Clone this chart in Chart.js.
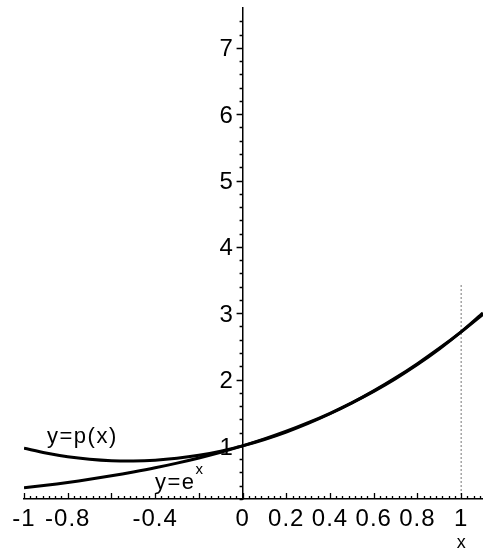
<!DOCTYPE html>
<html><head><meta charset="utf-8">
<script src="https://cdn.jsdelivr.net/npm/chart.js@4/dist/chart.umd.min.js"></script>
<style>html,body{margin:0;padding:0;background:#fff;overflow:hidden}#wrap{width:483px;height:551px}</style>
</head><body><div id="wrap"><canvas id="c" width="483" height="551"></canvas></div>
<script>
// ---- data ----
const xValues   = [-1, -0.9, -0.8, -0.7, -0.6, -0.5, -0.4, -0.3, -0.2, -0.1, 0, 0.1, 0.2, 0.3, 0.4, 0.5, 0.6, 0.7, 0.8, 0.9, 1.0, 1.1];
const expValues = [0.368, 0.407, 0.449, 0.497, 0.549, 0.607, 0.670, 0.741, 0.819, 0.905, 1.0, 1.105, 1.221, 1.350, 1.492, 1.649, 1.822, 2.014, 2.226, 2.460, 2.718, 3.004];
const pValues   = [0.965, 0.893, 0.837, 0.799, 0.777, 0.772, 0.784, 0.813, 0.858, 0.921, 1.0, 1.096, 1.209, 1.339, 1.485, 1.648, 1.829, 2.026, 2.240, 2.471, 2.718, 2.983];
const guideX    = [1, 1];
const guideY    = [0.2, 3.45];
const xMajorTicks = [-1, -0.8, -0.6, -0.4, -0.2, 0, 0.2, 0.4, 0.6, 0.8, 1];
const xTickLabels = ['-1', '-0.8', '', '-0.4', '', '0', '0.2', '0.4', '0.6', '0.8', '1'];
const yMajorTicks = [1, 2, 3, 4, 5, 6, 7];
const yTickLabels = ['1', '2', '3', '4', '5', '6', '7'];
const curveLabelP = 'y=p(x)';
const curveLabelE = 'y=e';
const curveLabelESup = 'x';
const xAxisTitle = 'x';

const tickFamily = '"Liberation Sans", Arial, sans-serif';
const textFamily = '"Liberation Sans", Arial, sans-serif';

const pts = (xs, ys) => xs.map((x, i) => ({x: x, y: ys[i]}));

const decor = {
  id: 'decor',
  beforeDraw(chart){ chart.ctx.letterSpacing = '1px'; },
  afterDraw(chart){
    const ctx = chart.ctx, xs = chart.scales.x, ys = chart.scales.y, ca = chart.chartArea;
    ctx.save();
    ctx.strokeStyle = '#000'; ctx.lineWidth = 1.3;
    // x-axis tick marks (pointing up)
    const yAxisPix = ca.bottom;
    ctx.beginPath();
    for (let i = 0; i <= 73; i++) {
      const v = -1 + i / 35;
      if (v > 1.1) break;
      const px = Math.round(xs.getPixelForValue(v)) + 0.5;
      const len = (i % 7 === 0) ? 6 : 3;
      ctx.moveTo(px, yAxisPix); ctx.lineTo(px, yAxisPix - len);
    }
    // y-axis tick marks (pointing left)
    const x0 = xs.getPixelForValue(0);
    for (let i = 1; i <= 37; i++) {
      const v = i / 5;
      if (v > 7.6) break;
      const py = Math.round(ys.getPixelForValue(v)) + 0.5;
      const len = (i % 5 === 0) ? 6 : 3;
      ctx.moveTo(x0, py); ctx.lineTo(x0 - len, py);
    }
    ctx.stroke();
    // curve labels
    ctx.letterSpacing = '1.5px';
    ctx.fillStyle = '#000';
    ctx.textBaseline = 'alphabetic'; ctx.textAlign = 'left';
    ctx.font = '22px ' + textFamily;
    ctx.fillText(curveLabelP, 47, 443);
    ctx.fillText(curveLabelE, 155, 489);
    const w = ctx.measureText(curveLabelE).width;
    ctx.font = '15px ' + textFamily;
    ctx.fillText(curveLabelESup, 155 + w, 474);
    // axis title
    ctx.letterSpacing = '0px';
    ctx.textAlign = 'center';
    ctx.font = '18px ' + tickFamily;
    ctx.fillText(xAxisTitle, xs.getPixelForValue(1), 548);
    ctx.restore();
  }
};

new Chart(document.getElementById('c').getContext('2d'), {
  type: 'scatter',
  data: { datasets: [
    { label: 'p', data: pts(xValues, pValues), showLine: true, borderColor: '#000', borderWidth: 3, pointRadius: 0, tension: 0.3, fill: false },
    { label: 'exp', data: pts(xValues, expValues), showLine: true, borderColor: '#000', borderWidth: 3, pointRadius: 0, tension: 0.3, fill: false },
    { label: 'guide', data: pts(guideX, guideY), showLine: true, borderColor: '#777', borderWidth: 1, borderDash: [2, 2], pointRadius: 0, fill: false }
  ]},
  options: {
    responsive: false, animation: false, events: [],
    layout: { padding: { left: 24, right: 0, top: 8, bottom: 0 } },
    plugins: { legend: { display: false }, tooltip: { enabled: false } },
    scales: {
      x: {
        type: 'linear', position: 'bottom', min: -1, max: 1.1,
        afterBuildTicks: s => { s.ticks = xMajorTicks.map(v => ({ value: v })); },
        afterFit: s => { s.height = 52; s.paddingTop = 0; },
        grid: { display: false, drawTicks: false },
        border: { display: true, color: '#000', width: 1.5 },
        ticks: { autoSkip: false, maxRotation: 0, minRotation: 0, padding: 6, color: '#000',
                 font: { family: tickFamily, size: 24 }, callback: (v, i) => xTickLabels[i] }
      },
      y: {
        type: 'linear', position: { x: 0 }, min: 0.2, max: 7.6,
        afterBuildTicks: s => { s.ticks = yMajorTicks.map(v => ({ value: v })); },
        afterFit: s => { s.paddingTop = 0; s.paddingBottom = 0; s.paddingLeft = 0; s.paddingRight = 0; },
        grid: { display: false, drawTicks: false },
        border: { display: true, color: '#000', width: 1.5 },
        ticks: { padding: 0, labelOffset: 2, color: '#000',
                 font: { family: tickFamily, size: 24 }, callback: (v, i) => yTickLabels[i] + '\u2009\u200A' }
      }
    }
  },
  plugins: [decor]
});
</script></body></html>
